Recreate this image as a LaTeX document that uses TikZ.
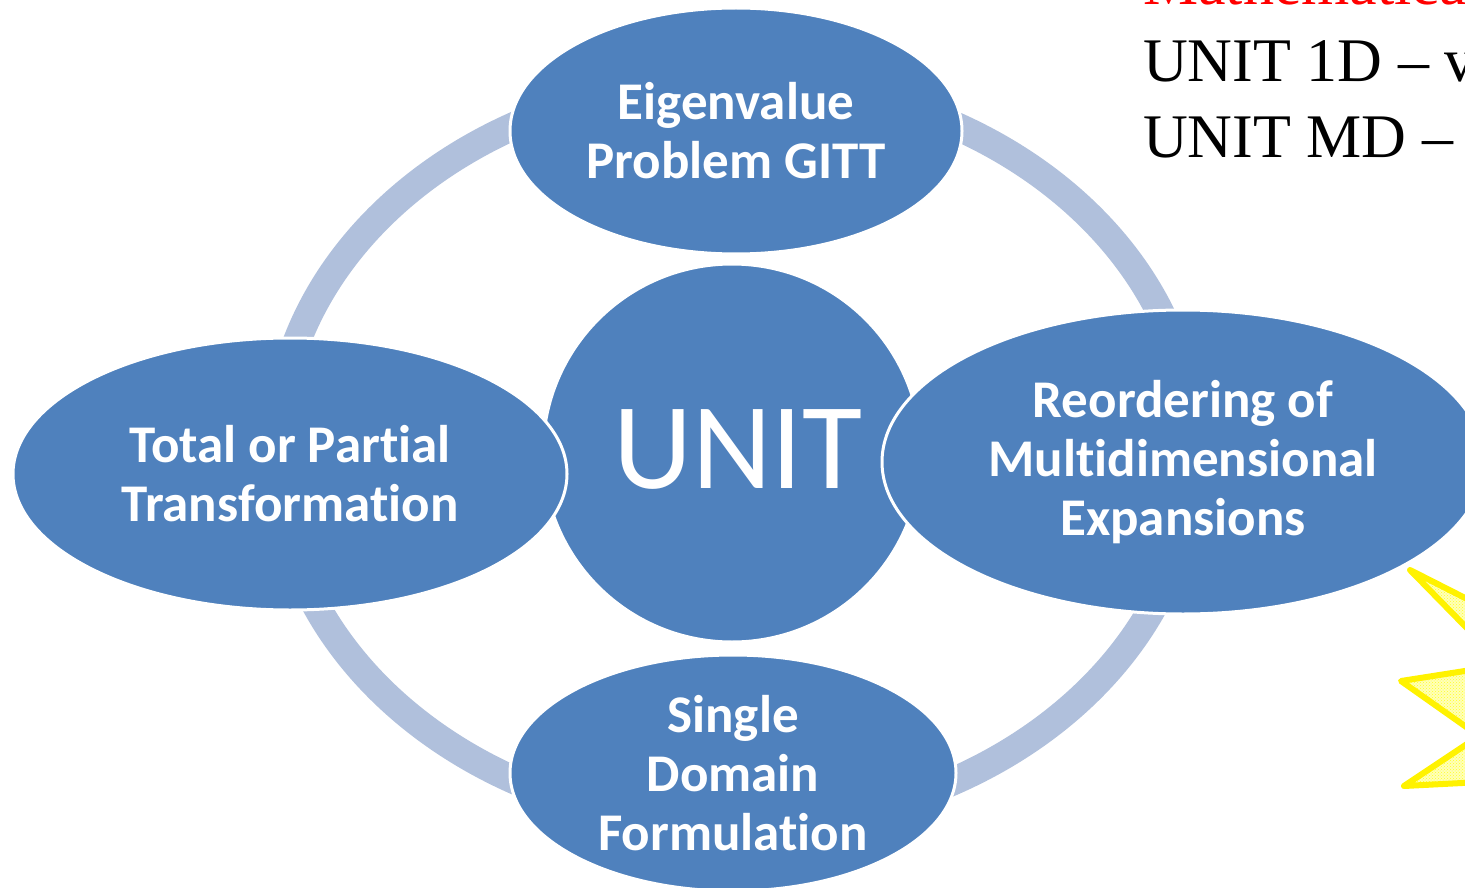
\documentclass[tikz,border=0pt]{standalone}
\usepackage{fontspec}
\usetikzlibrary{shapes.geometric,patterns}
\newfontfamily\carlito[Ligatures=NoCommon]{Carlito}
\newfontfamily\serifrm{Liberation Serif}
\definecolor{nodeblue}{RGB}{79,129,189}
\definecolor{ringblue}{RGB}{176,192,220}
\definecolor{starfill}{RGB}{255,255,185}
\definecolor{headred}{RGB}{255,0,0}

\begin{document}
\begin{tikzpicture}[x=1pt,y=-1pt,
  topic/.style={ellipse, fill=nodeblue, draw=white, line width=3pt, inner sep=0pt,
    align=center, text=white, font=\carlito\bfseries\fontsize{53}{59}\selectfont},
  hub/.style={circle, fill=nodeblue, draw=white, line width=3pt, minimum size=378pt,
    inner sep=0pt},
  ring/.style={draw=ringblue, line width=28pt},
  heading/.style={anchor=base west, inner sep=0pt, font=\serifrm\fontsize{62}{62}\selectfont},
  burst/.style={draw=yellow, line width=6pt, line join=round,
    preaction={fill=starfill}, pattern=crosshatch dots, pattern color=yellow!85}]

\useasboundingbox (0,0) rectangle (1465,888);
\clip (0,0) rectangle (1465,888);

% cycle ring behind the topics
\draw[ring] (735,453) ellipse [x radius=459, y radius=373];

% central hub
\node[hub] (hub) at (732,453) {};
\node[inner sep=0pt, text=white, font=\carlito\fontsize{123}{123}\selectfont] (hubtext) at (738,449) {UNIT};

% the four topics around the hub
\node[topic, minimum width=452pt, minimum height=246pt] (eigen) at (736,131)
  {Eigenvalue\\Problem GITT};
\node[topic, minimum width=446pt, minimum height=236pt] (single) at (733,773)
  {Single\\Domain\\Formulation};
\node[topic, minimum width=554pt, minimum height=272pt] (total) at (290,474)
  {Total or Partial\\Transformation};
\node[topic, minimum width=602pt, minimum height=304pt] (reorder) at (1183,462)
  {Reordering of\\Multidimensional\\Expansions};

% heading text at the upper right
\node[heading, text=headred] (math) at (1143,5) {Mathematica};
\node[heading] (unit1d) at (1143,82) {UNIT 1D – v};
\node[heading] (unitmd) at (1143,158) {UNIT MD –};

% yellow burst at the right edge
\path[burst] (1540,636) -- (1410,570) -- (1503,665) -- (1401,681) -- (1479,736)
  -- (1404,786) -- (1540,779) -- (1600,779) -- (1600,636) -- cycle;

\end{tikzpicture}
\end{document}
